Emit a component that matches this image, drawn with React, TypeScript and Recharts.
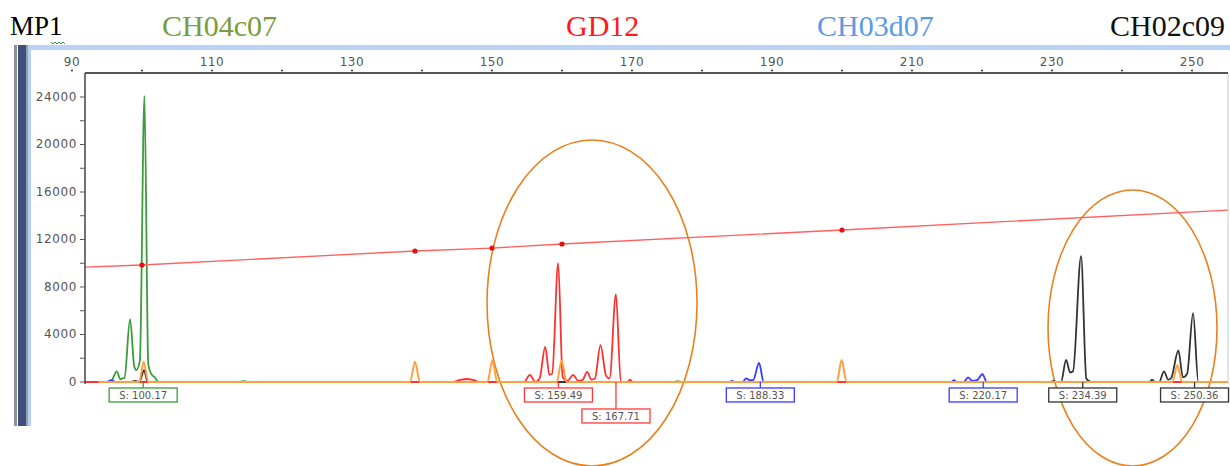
import React from "react";
import {
  ComposedChart,
  Line,
  XAxis,
  YAxis,
  ReferenceArea,
  ReferenceDot,
  ReferenceLine,
} from "recharts";

// size (bp) / intensity pairs
const greenTrace = [
  [91.86, 0], [94.5, 0], [95.6, 80], [96.4, 900], [96.9, 250], [97.5, 350],
  [98.3, 5300], [98.9, 1300], [99.2, 1000], [99.7, 1800], [100.35, 24100],
  [100.9, 1500], [101.3, 700], [101.8, 400], [102.4, 0], [113.8, 0],
  [114.5, 60], [115.3, 0], [176, 0], [176.5, 60], [177.2, 0], [255.14, 0],
];
const blueTrace = [
  [91.86, 0], [95, 0], [95.6, 150], [96.2, 0], [183.9, 0], [184.3, 100],
  [184.7, 0], [185.8, 0], [186.3, 300], [186.8, 150], [187.3, 150],
  [188.15, 1600], [188.8, 0], [215.6, 0], [216.0, 150], [216.4, 0],
  [217.4, 0], [218.0, 380], [218.6, 100], [219.3, 150], [220.05, 650],
  [220.7, 0], [255.14, 0],
];
const blackTrace = [
  [91.86, 0], [98.5, 0], [99, 100], [99.5, 0], [99.8, 200], [100.3, 1000],
  [100.8, 0], [229.8, 0], [230.2, 100], [230.6, 0], [231.3, 0], [232.0, 1850],
  [232.6, 800], [233.0, 900], [234.15, 10600], [234.9, 300], [235.6, 0],
  [243.9, 0], [244.3, 200], [244.7, 0], [245.3, 0], [246.0, 900],
  [246.6, 200], [247.0, 300], [248.05, 2650], [248.7, 400], [249.3, 700],
  [250.15, 5800], [250.9, 0], [255.14, 0],
];
const redTrace = [
  [91.86, 0], [144.3, 0], [145.3, 150], [146.4, 250], [147.4, 150],
  [148.3, 0], [154.6, 0], [155.4, 600], [156.2, 0], [156.8, 300],
  [157.6, 2950], [158.2, 600], [158.6, 700], [159.45, 10000], [160.1, 400],
  [160.8, 100], [161.6, 600], [162.3, 100], [162.9, 150], [163.6, 850],
  [164.2, 200], [164.7, 300], [165.5, 3100], [166.3, 500], [166.8, 300],
  [167.7, 7400], [168.4, 0], [169.3, 0], [169.7, 200], [170.1, 0],
  [255.14, 0],
];
const orangeTrace = [
  [93.8, 0], [99.6, 0], [100.25, 1700], [100.9, 0], [138.3, 0], [139, 1700],
  [139.7, 0], [149.35, 0], [150.05, 1800], [150.75, 0], [159.25, 0],
  [159.95, 1800], [160.65, 0], [199.25, 0], [199.95, 1850], [200.65, 0],
  [247.2, 0], [247.9, 1400], [248.6, 0], [255.14, 0],
];

// sizing curve
const sizingX = [91.86, 100, 139, 150, 160, 200, 255.14];
const sizingY = [9680, 9850, 11030, 11280, 11620, 12800, 14480];

// allele calls
const callValues = [100.17, 159.49, 167.71, 188.33, 220.17, 234.39, 250.36];
const callColors = ["#3a9c3a", "#ff3a3a", "#ff3a3a", "#3a3aff", "#3a3aff", "#333333", "#333333"];
const callLevel = [0, 0, 1, 0, 0, 0, 0];

const xTicks = [90, 100, 110, 120, 130, 140, 150, 160, 170, 180, 190, 200, 210, 220, 230, 240, 250];
const yTicks = [0, 2000, 4000, 6000, 8000, 10000, 12000, 14000, 16000, 18000, 20000, 22000, 24000];

const markerNames = ["MP1", "CH04c07", "GD12", "CH03d07", "CH02c09"];
const markerLeft = [10, 162, 566, 817, 1110];
const markerSize = [27, 30, 30, 30, 30];
const markerColors = ["#000000", "#7a9c3c", "#ff1a1a", "#5b9be6", "#111111"];

const toRows = (pts: number[][]) => pts.map(([x, y]) => ({ x, y }));
const sizingRows = sizingX.map((x, i) => ({ x, y: sizingY[i] }));

const tickFont = { fontFamily: "DejaVu Sans", fontSize: 12, fill: "#555", letterSpacing: 0.6 };

function XTick(props: any) {
  const { x, y, payload } = props;
  const labeled = (payload.value - 90) % 20 === 0;
  return (
    <g>
      <circle cx={x} cy={y - 2.5} r={1.1} fill="#444" />
      {labeled && (
        <text x={x} y={y - 7} textAnchor="middle" {...tickFont}>
          {payload.value}
        </text>
      )}
    </g>
  );
}

function YTick(props: any) {
  const { x, y, payload } = props;
  if (payload.value % 4000 !== 0) return <g />;
  return (
    <text x={x} y={y + 4} textAnchor="end" {...tickFont}>
      {payload.value}
    </text>
  );
}

function tagShape(label: string, color: string, level: number) {
  return (p: any) => {
    const cx = p.cx;
    const cy = p.cy;
    const top = level === 0 ? cy + 6 : cy + 27;
    return (
      <g>
        <line x1={cx} y1={cy} x2={cx} y2={top} stroke={color} strokeWidth={1.3} />
        <rect x={cx - 34} y={top} width={68} height={14} fill="#fff" stroke={color} strokeWidth={1.3} />
        <text x={cx} y={top + 11} textAnchor="middle" fontFamily="DejaVu Sans" fontSize={10} fill="#555">
          {label}
        </text>
      </g>
    );
  };
}

const ellipseShape = (p: any) => (
  <ellipse
    cx={p.x + p.width / 2}
    cy={p.y + p.height / 2}
    rx={Math.abs(p.width) / 2}
    ry={Math.abs(p.height) / 2}
    fill="none"
    stroke="#e8801e"
    strokeWidth={1.6}
  />
);

export default function App() {
  return (
    <div style={{ position: "absolute", left: 0, top: 0, width: 1230, height: 466, background: "#fff", overflow: "hidden" }}>
      {/* window chrome */}
      <div style={{ position: "absolute", left: 14, top: 45, width: 3, height: 381, background: "#8a909c" }} />
      <div style={{ position: "absolute", left: 18, top: 45, width: 8, height: 381, background: "#3e4f7d" }} />
      <div style={{ position: "absolute", left: 26, top: 45, width: 2, height: 381, background: "#9aa0aa" }} />
      <div style={{ position: "absolute", left: 28, top: 45, width: 3, height: 381, background: "#b4d0f2" }} />
      <div style={{ position: "absolute", left: 30, top: 45, width: 1200, height: 5, background: "#b8d4f5" }} />

      {markerNames.map((name, i) => (
        <div
          key={name}
          style={{
            position: "absolute",
            left: markerLeft[i],
            top: 8,
            fontFamily: "Liberation Serif",
            fontSize: markerSize[i],
            lineHeight: "36px",
            color: markerColors[i],
            whiteSpace: "nowrap",
          }}
        >
          {name}
        </div>
      ))}
      <svg style={{ position: "absolute", left: 50, top: 40 }} width={20} height={6}>
        <path d="M1 2 L3 4 L5 2 L7 4 L9 2 L11 4 L13 2 L15 4" stroke="#3a9c3a" fill="none" strokeWidth={1} />
      </svg>

      <div style={{ position: "absolute", left: 0, top: 0 }}>
        <ComposedChart width={1230} height={466} margin={{ top: 48, right: 2, bottom: 82, left: 30 }}>
          <XAxis
            dataKey="x"
            type="number"
            orientation="top"
            domain={[91.86, 255.14]}
            allowDataOverflow
            ticks={xTicks}
            interval={0}
            height={25}
            tickSize={0}
            tickMargin={0}
            tickLine={false}
            tick={<XTick />}
            axisLine={{ stroke: "#555", strokeWidth: 2 }}
          />
          <YAxis
            type="number"
            domain={[-170, 26020]}
            allowDataOverflow
            ticks={yTicks}
            interval={0}
            width={55}
            tickSize={5}
            tickMargin={3}
            tickLine={{ stroke: "#555" }}
            tick={<YTick />}
            axisLine={{ stroke: "#444", strokeWidth: 1.5 }}
          />
          <ReferenceLine x={255.14} stroke="#cccccc" ifOverflow="visible" />

          <Line data={toRows(greenTrace)} dataKey="y" type="monotone" stroke="#3a9c3a" strokeWidth={1.8} dot={false} isAnimationActive={false} />
          <Line data={toRows(blueTrace)} dataKey="y" type="monotone" stroke="#3a3aff" strokeWidth={1.8} dot={false} isAnimationActive={false} />
          <Line data={toRows(blackTrace)} dataKey="y" type="monotone" stroke="#333333" strokeWidth={1.8} dot={false} isAnimationActive={false} />
          <Line data={toRows(redTrace)} dataKey="y" type="monotone" stroke="#ff3030" strokeWidth={1.8} dot={false} isAnimationActive={false} />
          <Line data={toRows(orangeTrace)} dataKey="y" type="monotone" stroke="#ffa040" strokeWidth={2} dot={false} isAnimationActive={false} />
          <Line
            data={sizingRows}
            dataKey="y"
            type="linear"
            stroke="#ff6060"
            strokeWidth={1.3}
            isAnimationActive={false}
            dot={(p: any) =>
              p.index > 0 && p.index < sizingRows.length - 1 ? (
                <circle key={p.index} cx={p.cx} cy={p.cy} r={2.6} fill="#e81010" />
              ) : (
                <g key={p.index} />
              )
            }
          />

          <ReferenceArea x1={149.29} x2={179.29} y1={-7074} y2={20380} ifOverflow="visible" shape={ellipseShape} />
          <ReferenceArea x1={229.43} x2={253.57} y1={-7074} y2={16170} ifOverflow="visible" shape={ellipseShape} />

          {callValues.map((v, i) => (
            <ReferenceDot
              key={v}
              x={v}
              y={0}
              r={0}
              ifOverflow="visible"
              shape={tagShape(`S: ${v.toFixed(2)}`, callColors[i], callLevel[i])}
            />
          ))}
        </ComposedChart>
      </div>
    </div>
  );
}
